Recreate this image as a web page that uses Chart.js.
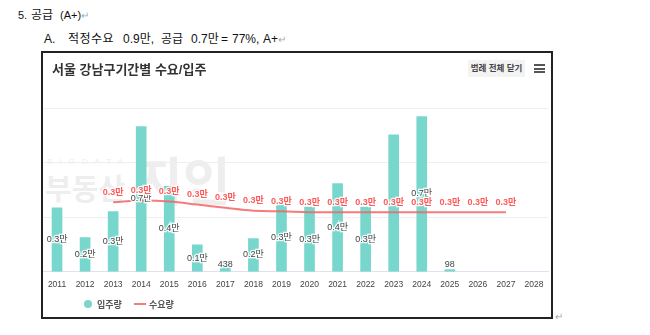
<!DOCTYPE html>
<html>
<head>
<meta charset="utf-8">
<script src="https://cdn.jsdelivr.net/npm/chart.js@4.4.1/dist/chart.umd.min.js"></script>
<style>
	body { margin: 0; width: 650px; height: 335px; background: #fff; position: relative; overflow: hidden;
		font-family: 'Liberation Sans', 'Noto Sans CJK KR', sans-serif; color: #111; }
	.doc { position: absolute; font-size: 12px; line-height: 16px; white-space: nowrap; }
	.ret { color: #aaa; font-size: 10px; }
	.frame { position: absolute; left: 41px; top: 51px; width: 508px; height: 264px; border: 2px solid #222; }
	.title { position: absolute; left: 9px; top: 6px; font-size: 13px; font-weight: bold; color: #333; }
	.btn { position: absolute; left: 425px; top: 7px; width: 57px; height: 17px; background: #f3f3f3;
		font-size: 8.5px; color: #444; text-align: center; line-height: 17px; font-weight: bold; }
	.menu { position: absolute; left: 491px; top: 11px; width: 11px; }
	.menu div { height: 2px; background: #555; margin-bottom: 1.5px; }
	.wm { position: absolute; color: #eeeeee; font-weight: bold; white-space: nowrap; }
	canvas { position: absolute; left: 0; top: 0; }
	.legend { position: absolute; top: 245px; left: 40px; font-size: 9px; font-weight: bold; color: #555; }
	.legend span { position: absolute; white-space: nowrap; }
</style>
</head>
<body>
<div class="doc" style="left:18px;top:7px;font-size:11px;">5.</div>
<div class="doc" style="left:31px;top:7px;">공급</div>
<div class="doc" style="left:60px;top:7px;font-size:11px;">(A+)<span class="ret">↵</span></div>
<div class="doc" style="left:44px;top:31px;">A.</div>
<div class="doc" style="left:68px;top:31px;letter-spacing:0.5px;">적정수요</div>
<div class="doc" style="left:123px;top:31px;">0.9만,</div>
<div class="doc" style="left:161px;top:31px;">공급</div>
<div class="doc" style="left:191px;top:31px;">0.7만</div>
<div class="doc" style="left:221px;top:31px;">=</div>
<div class="doc" style="left:232px;top:31px;">77%,</div>
<div class="doc" style="left:263px;top:31px;">A+<span class="ret">↵</span></div>
<div class="frame">
	<div class="wm" style="left:4px;top:104px;font-size:8px;letter-spacing:7px;font-weight:normal;">BIGDATA</div>
	<div class="wm" style="left:2px;top:113px;font-size:29px;">부동산</div>
	<div class="wm" style="left:92px;top:88px;font-size:52px;">지인</div>
	<canvas id="chart" width="508" height="264"></canvas>
	<div class="title">서울 강남구기간별 수요/입주</div>
	<div class="btn">범례 전체 닫기</div>
	<div class="menu"><div></div><div></div><div></div></div>
	<div class="legend" id="legend"></div>
</div>
<div class="ret" style="position:absolute;left:555px;top:311px;">↵</div>
<script>
const YEARS = ['2011', '2012', '2013', '2014', '2015', '2016', '2017', '2018', '2019', '2020', '2021', '2022', '2023', '2024', '2025', '2026', '2027', '2028'];
const SUPPLY = [2930, 1570, 2760, 6650, 3910, 1230, 438, 1520, 3080, 2960, 4040, 2960, 6270, 7110, 98, null, null, null];
const DEMAND = [null, null, 3190, 3265, 3220, 3080, 2930, 2800, 2770, 2725, 2725, 2725, 2725, 2725, 2725, 2725, 2725, null];
const Y_TICKS = [0, 2500, 5000, 7500];

const BAR_COLOR = '#78d7cd';
const LINE_COLOR = 'rgba(244, 100, 100, 0.85)';
const FONT = "'Liberation Sans', 'Noto Sans CJK KR', sans-serif";

function formatValue(v) {
	if (v >= 1000) return (v / 10000).toFixed(1) + '만';
	return String(v);
}

function drawText(ctx, text, x, y, color) {
	ctx.lineWidth = 2.5;
	ctx.strokeStyle = 'rgba(255,255,255,0.9)';
	ctx.strokeText(text, x, y);
	ctx.fillStyle = color;
	ctx.fillText(text, x, y);
}

const valueLabels = {
	id: 'valueLabels',
	afterDatasetsDraw(chart) {
		const ctx = chart.ctx;
		const barMeta = chart.getDatasetMeta(1);
		const lineMeta = chart.getDatasetMeta(0);
		const lineY = {};
		lineMeta.data.forEach((pt, i) => {
			if (DEMAND[i] != null) lineY[i] = pt.y - 10;
		});
		ctx.save();
		ctx.textAlign = 'center';
		ctx.textBaseline = 'middle';
		ctx.font = '9px ' + FONT;
		barMeta.data.forEach((bar, i) => {
			if (SUPPLY[i] == null) return;
			const y = Math.min((bar.y + bar.base) / 2, bar.base - 7);
			if (lineY[i] != null && Math.abs(lineY[i] - y) < 4) return;
			drawText(ctx, formatValue(SUPPLY[i]), bar.x, y, '#444');
		});
		ctx.font = 'bold 9px ' + FONT;
		lineMeta.data.forEach((pt, i) => {
			if (lineY[i] == null) return;
			drawText(ctx, formatValue(DEMAND[i]), pt.x, lineY[i], '#ff5a5a');
		});
		ctx.restore();
	},
};

const chart = new Chart(document.getElementById('chart').getContext('2d'), {
	data: {
		labels: YEARS,
		datasets: [
			{
				type: 'line',
				label: '수요량',
				data: DEMAND,
				borderColor: LINE_COLOR,
				borderWidth: 2,
				pointRadius: 0,
				tension: 0.4,
				order: 0,
			},
			{
				type: 'bar',
				label: '입주량',
				data: SUPPLY,
				backgroundColor: BAR_COLOR,
				barThickness: 10,
				order: 1,
			},
		],
	},
	options: {
		responsive: false,
		animation: false,
		layout: {
			padding: { left: 0, right: 3, top: 55, bottom: 27 },
		},
		scales: {
			x: {
				grid: { display: false },
				border: { color: '#dfe1ee', width: 1 },
				ticks: { color: '#444', font: { size: 8.5, family: FONT }, padding: 0, maxRotation: 0 },
			},
			y: {
				min: Y_TICKS[0],
				max: Y_TICKS[Y_TICKS.length - 1],
				afterBuildTicks: axis => {
					axis.ticks = Y_TICKS.map(v => ({ value: v }));
				},
				ticks: { display: false },
				border: { display: false },
				grid: { color: '#efefef', drawTicks: false },
			},
		},
		plugins: {
			legend: { display: false },
			tooltip: { enabled: false },
		},
	},
	plugins: [valueLabels],
});

// html legend from the datasets
const legend = document.getElementById('legend');
legend.innerHTML =
	'<span style="left:1px;top:2px;width:8px;height:8px;border-radius:50%;background:' + BAR_COLOR + '"></span>' +
	'<span style="left:14px;top:0;">' + chart.data.datasets[1].label + '</span>' +
	'<span style="left:51px;top:5px;width:12px;height:2px;background:' + LINE_COLOR + '"></span>' +
	'<span style="left:66px;top:0;">' + chart.data.datasets[0].label + '</span>';
</script>
</body>
</html>
